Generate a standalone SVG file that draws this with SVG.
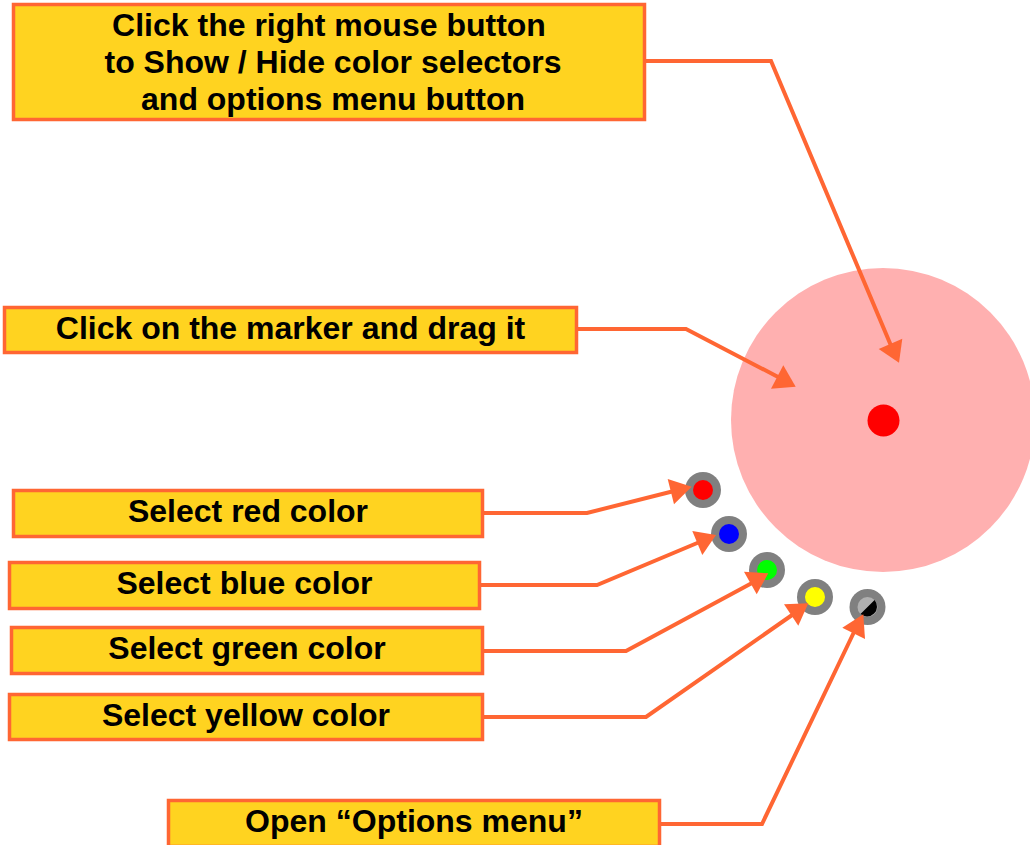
<svg xmlns="http://www.w3.org/2000/svg" width="1030" height="845" viewBox="0 0 1030 845">
<style>
.box{fill:#ffd320;stroke:#ff6633;stroke-width:3.500}
.t{font-family:"Liberation Sans",Arial,sans-serif;font-weight:bold;font-size:32px;text-anchor:middle;fill:#000}
.c{fill:none;stroke:#ff6633;stroke-width:4}
.h{fill:#ff6633}
.ring{fill:#808080}
</style>
<rect width="1030" height="845" fill="#fff"/>
<g id="marker">
<circle cx="883" cy="420" r="152" fill="#ffb0b0"/>
<circle cx="883.500" cy="420.500" r="16" fill="#ff0000"/>
</g>
<g id="sel-red"><circle class="ring" cx="703" cy="490" r="18"/><circle cx="703" cy="490" r="10" fill="#ff0000"/></g>
<g id="sel-blue"><circle class="ring" cx="729" cy="534" r="18"/><circle cx="729" cy="534" r="10" fill="#0000ff"/></g>
<g id="sel-green"><circle class="ring" cx="767" cy="570" r="18"/><circle cx="767" cy="570" r="10" fill="#00ff00"/></g>
<g id="sel-yellow"><circle class="ring" cx="815" cy="597" r="18"/><circle cx="815" cy="597" r="10" fill="#ffff00"/></g>
<g id="sel-options"><circle class="ring" cx="867.500" cy="607" r="18"/><circle cx="867.500" cy="607" r="10" fill="#b0b0b0"/><path d="M860.500 614.100A10 10 0 0 0 874.600 600Z" fill="#000"/></g>
<g id="connectors">
<path class="c" d="M645 61H771L892 348"/><path class="h" d="M899 362.700L878.700 349L902.300 338.700Z"/>
<path class="c" d="M577 329H686L780 378"/><path class="h" d="M795.700 386.700L771 388.700L783.300 365.300Z"/>
<path class="c" d="M483 513H587L678 490"/><path class="h" d="M691.700 486.700L674 504.300L667.700 479Z"/>
<path class="c" d="M480 585H597L702 541"/><path class="h" d="M716 535L702.300 555L692.300 531Z"/>
<path class="c" d="M483 651H626L752 583"/><path class="h" d="M768.300 573.300L756.700 594.300L744 571.700Z"/>
<path class="c" d="M483 717H646L795 613"/><path class="h" d="M808.300 603.300L798.300 625.700L784 604.300Z"/>
<path class="c" d="M660 824H762L855 630"/><path class="h" d="M863.300 614.300L865 639L842.300 627.700Z"/>
</g>
<g id="box-right-click"><rect class="box" x="13.500" y="4.500" width="631" height="115"/><text class="t" x="329" y="36">Click the right mouse button</text><text class="t" x="333" y="73">to Show / Hide color selectors</text><text class="t" x="333" y="110">and options menu button</text></g>
<g id="box-drag"><rect class="box" x="4.500" y="307.500" width="572" height="45"/><text class="t" x="290.500" y="339">Click on the marker and drag it</text></g>
<g id="box-red"><rect class="box" x="13.500" y="490.500" width="469" height="46"/><text class="t" x="248" y="522">Select red color</text></g>
<g id="box-blue"><rect class="box" x="9.500" y="562.500" width="470" height="46"/><text class="t" x="244.500" y="594">Select blue color</text></g>
<g id="box-green"><rect class="box" x="11.500" y="627.500" width="471" height="46"/><text class="t" x="247" y="659">Select green color</text></g>
<g id="box-yellow"><rect class="box" x="9.500" y="694.500" width="473" height="45"/><text class="t" x="246" y="726">Select yellow color</text></g>
<g id="box-options"><rect class="box" x="168.500" y="800.500" width="491" height="46"/><text class="t" x="414" y="832">Open “Options menu”</text></g>
</svg>
